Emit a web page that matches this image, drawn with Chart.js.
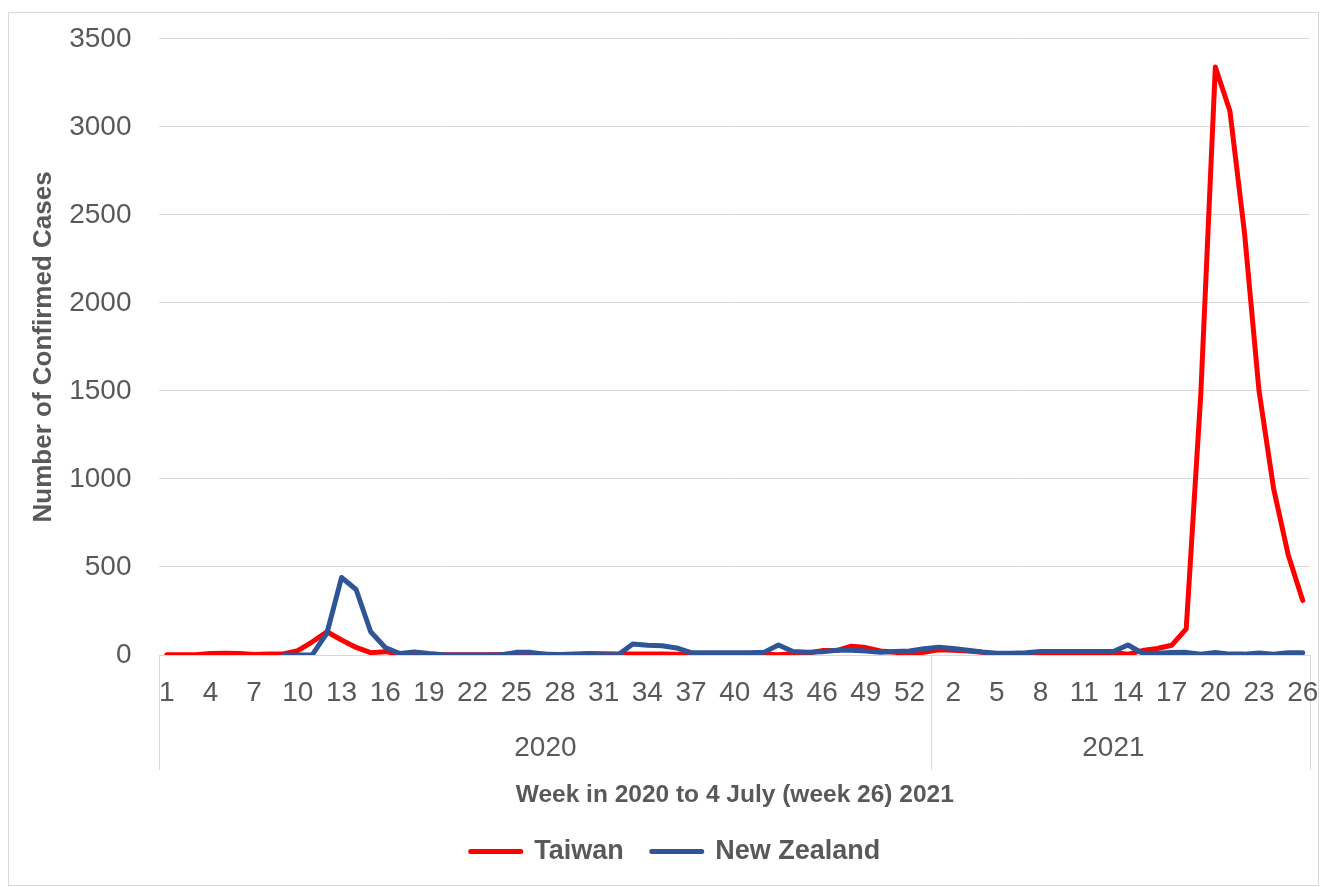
<!DOCTYPE html>
<html>
<head>
<meta charset="utf-8">
<script src="https://cdn.jsdelivr.net/npm/chart.js@4.4.1/dist/chart.umd.min.js"></script>
<style>
  body { margin: 0; background: #fff; }
  #wrap { position: absolute; left: 8px; top: 12px; width: 1311px; height: 874px; box-sizing: border-box; border: 1px solid #d9d9d9; }
  canvas { display: block; }
</style>
</head>
<body>
<div id="wrap"><canvas id="c"></canvas></div>
<script>
// week numbers on the axis
const weeks2020 = [1,2,3,4,5,6,7,8,9,10,11,12,13,14,15,16,17,18,19,20,21,22,23,24,25,26,27,28,29,30,
  31,32,33,34,35,36,37,38,39,40,41,42,43,44,45,46,47,48,49,50,51,52,53];
const weeks2021 = [1,2,3,4,5,6,7,8,9,10,11,12,13,14,15,16,17,18,19,20,21,22,23,24,25,26];
const years = ['2020', '2021'];
const weekLabels = weeks2020.concat(weeks2021);

// weekly confirmed cases
const taiwan = [1,2,1,8,10,8,3,6,6,25,75,132,85,43,13,19,6,3,2,1,2,1,2,3,4,3,4,3,5,8,
  7,5,6,5,6,4,5,4,3,4,5,6,1,7,10,25,25,50,42,23,15,8,15,
  30,27,23,15,3,2,3,10,10,5,3,10,15,5,25,37,55,148,1480,3340,3090,2400,1500,945,570,310];
const newZealand = [null,null,null,null,null,null,null,null,0,0,2,125,440,372,132,43,8,17,8,1,0,0,0,1,15,15,4,3,3,3,
  2,1,62,55,52,40,13,13,13,13,13,15,57,20,15,18,27,27,23,15,20,23,36,
  44,37,27,17,10,10,13,20,20,20,20,20,20,57,10,10,14,15,5,15,5,5,12,5,13,13];

const yTicks = [0, 500, 1000, 1500, 2000, 2500, 3000, 3500];

const grey = '#595959';
const font = "'Liberation Sans', Arial, sans-serif";

// first category of each year, and the category its year label sits under
const yearStart = [0, weeks2020.length];
const yearMid = [Math.floor((weeks2020.length - 1) / 2), weeks2020.length + Math.floor((weeks2021.length - 1) / 2)];
// separator lines only at year boundaries (index undefined = the closing edge)
const edgeColor = ctx => (ctx.index === undefined || yearStart.includes(ctx.index)) ? '#d9d9d9' : 'rgba(0,0,0,0)';

new Chart(document.getElementById('c'), {
  type: 'line',
  data: {
    labels: weekLabels,
    datasets: [
      { label: 'Taiwan', data: taiwan, borderColor: '#ff0000', backgroundColor: '#ff0000', borderWidth: 5,
        pointRadius: 0, tension: 0, borderJoinStyle: 'round', borderCapStyle: 'round', order: 2 },
      { label: 'New Zealand', data: newZealand, borderColor: '#2f5597', backgroundColor: '#2f5597', borderWidth: 5,
        pointRadius: 0, tension: 0, borderJoinStyle: 'round', borderCapStyle: 'round', order: 1 }
    ]
  },
  options: {
    responsive: true,
    maintainAspectRatio: false,
    animation: false,
    // left padding pushes the legend a bit right, the y title padding takes it back
    layout: { padding: { left: 32, top: 0, right: 8, bottom: 10 } },
    plugins: {
      tooltip: { enabled: false },
      legend: {
        position: 'bottom',
        labels: {
          color: grey, font: { family: font, size: 27, weight: 'bold' },
          boxWidth: 50, boxHeight: 0, padding: 28,
          sort: (a, b) => a.datasetIndex - b.datasetIndex
        }
      }
    },
    scales: {
      x: {
        offset: true,
        weight: 0,
        border: { display: false },
        grid: { offset: true, drawOnChartArea: false, drawTicks: true, tickLength: 60, color: edgeColor },
        ticks: {
          autoSkip: false, maxRotation: 0, padding: -38.8, color: grey,
          font: { family: font, size: 28 },
          callback: (v, i) => i % 3 === 0 ? weekLabels[i] : ''
        },
        // empty title only to give the label row its height
        title: { display: true, text: ' ', font: { size: 10 }, padding: { top: 14.5, bottom: 14.5 } }
      },
      x2: {
        type: 'category',
        position: 'bottom',
        weight: 1,
        offset: true,
        border: { display: false },
        grid: { offset: true, drawOnChartArea: false, drawTicks: true, tickLength: 58, color: edgeColor },
        ticks: {
          autoSkip: false, maxRotation: 0, padding: -38.8, color: grey,
          font: { family: font, size: 28 },
          callback: (v, i) => yearMid.includes(i) ? years[yearMid.indexOf(i)] : ''
        },
        title: {
          display: true, text: 'Week in 2020 to 4 July (week 26) 2021', color: grey,
          font: { family: font, size: 24.5, weight: 'bold' }, padding: { top: 54.6, bottom: 0 }
        }
      },
      y: {
        min: 0, max: 3500,
        border: { display: false },
        grid: { color: '#d9d9d9', drawTicks: true, tickLength: 19, tickColor: 'rgba(0,0,0,0)' },
        afterBuildTicks: s => { s.ticks = yTicks.map(v => ({ value: v })); },
        ticks: { padding: 9, color: grey, font: { family: font, size: 28 }, callback: v => String(v) },
        title: {
          display: true, text: 'Number of Confirmed Cases', color: grey,
          font: { family: font, size: 26, weight: 'bold' }, padding: { top: -13, bottom: 1 }
        }
      }
    }
  }
});
</script>
</body>
</html>
